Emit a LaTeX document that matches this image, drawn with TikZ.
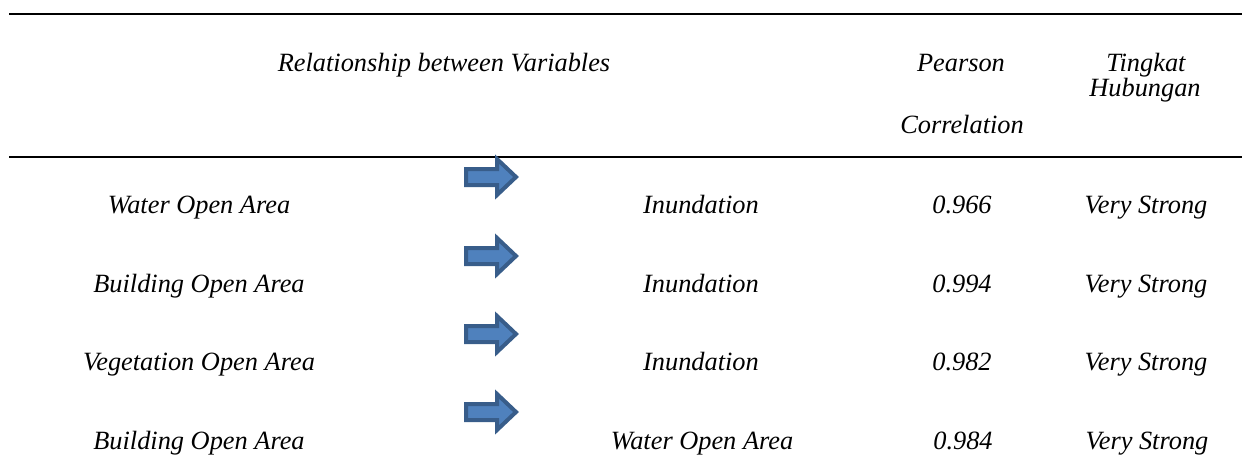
\documentclass[tikz,border=0pt]{standalone}
\usepackage{fontspec}
\setmainfont{Liberation Serif}

\definecolor{arrowfill}{HTML}{4F81BD}
\definecolor{arrowline}{HTML}{385D8A}

\tikzset{
	txt/.style={anchor=base,inner sep=0pt,font=\fontsize{15}{18}\selectfont\itshape},
	blockarrow/.pic={
		\draw[draw=arrowline,fill=arrowfill,line width=0.08cm]
			(-25,-8) -- (6,-8) -- (6,-18) -- (25,0) -- (6,18) -- (6,8) -- (-25,8) -- cycle;
	},
	rule/.style={line width=0.05cm}
}

\begin{document}
\begin{tikzpicture}[x=0.02cm,y=-0.02cm]
		\useasboundingbox (0,0) rectangle (1242,454);
		%\draw[fill,red] (0,0) rectangle (1242,454);
		\coordinate (topL) at (9,14);
		\coordinate (topR) at (1242,14);
		\coordinate (midL) at (9,157);
		\coordinate (midR) at (1242,157);
		\draw[rule] (topL) -- (topR);
		\draw[rule] (midL) -- (midR);
		% header
		\node[txt] (hrel) at (444,71) {Relationship between Variables};
		\node[txt] (hpear) at (961,71) {Pearson};
		\node[txt] (hcorr) at (962,133) {Correlation};
		\node[txt] (hting) at (1146,71) {Tingkat};
		\node[txt] (hhub) at (1145,96) {Hubungan};
		% row 1
		\node[txt] (from1) at (199,213) {Water Open Area};
		\pic (arr1) at (491,177) {blockarrow};
		\node[txt] (to1) at (701,213) {Inundation};
		\node[txt] (r1) at (962,213) {0.966};
		\node[txt] (lvl1) at (1146,213) {Very Strong};
		% row 2
		\node[txt] (from2) at (199,292) {Building Open Area};
		\pic (arr2) at (491,256) {blockarrow};
		\node[txt] (to2) at (701,292) {Inundation};
		\node[txt] (r2) at (962,292) {0.994};
		\node[txt] (lvl2) at (1146,292) {Very Strong};
		% row 3
		\node[txt] (from3) at (199,370) {Vegetation Open Area};
		\pic (arr3) at (491,334) {blockarrow};
		\node[txt] (to3) at (701,370) {Inundation};
		\node[txt] (r3) at (962,370) {0.982};
		\node[txt] (lvl3) at (1146,370) {Very Strong};
		% row 4
		\node[txt] (from4) at (199,449) {Building Open Area};
		\pic (arr4) at (491,412) {blockarrow};
		\node[txt] (to4) at (702,449) {Water Open Area};
		\node[txt] (r4) at (963,449) {0.984};
		\node[txt] (lvl4) at (1147,449) {Very Strong};
	\end{tikzpicture}
\end{document}
